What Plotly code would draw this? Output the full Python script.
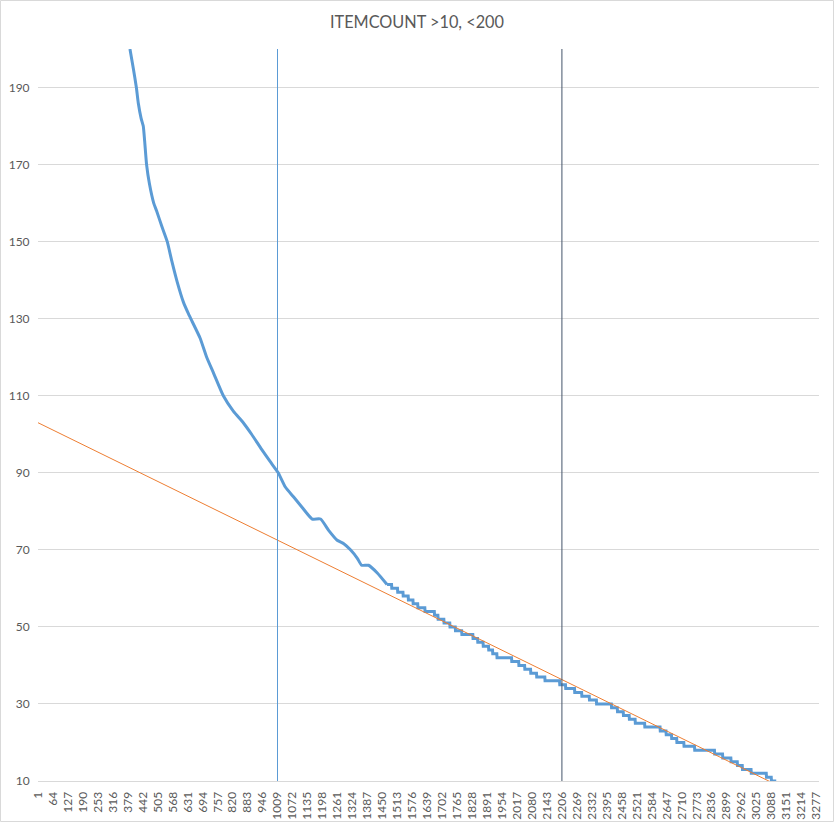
import plotly.graph_objects as go

# ---------------- data ----------------
title_text = "ITEMCOUNT >10, <200"

# steep upper part of the sorted ITEMCOUNT curve (rank, count)
upper_rank = [388, 402, 415, 423, 435, 444, 450, 458, 470, 488, 500, 522, 545, 564, 587,
              613, 634, 648, 683, 711, 739, 781, 823, 865, 900, 943, 977, 1012,
              1042, 1077, 1113, 1155, 1190, 1225, 1260, 1288, 1316, 1345, 1363,
              1392, 1429, 1470]
upper_count = [200, 195, 190, 186, 182, 180, 176, 170, 165, 160, 158, 154, 150, 145,
               139.5, 134.3, 131.3, 129.5, 125, 120, 116, 110, 106, 103, 100, 96, 93,
               90, 86.3, 83.7, 81, 78, 78, 75, 72.5, 71.6, 70, 67.8, 66, 66, 64, 61]

# lower part: first rank at which each integer count occurs (step plateaus)
step_count = list(range(61, 9, -1))
step_start = [1470, 1490, 1515, 1538, 1560, 1580, 1600, 1630, 1670, 1685, 1710, 1735,
              1758, 1785, 1832, 1852, 1875, 1898, 1915, 1933, 1995, 2025, 2050, 2075,
              2100, 2135, 2197, 2222, 2260, 2290, 2322, 2352, 2415, 2440, 2465, 2490,
              2515, 2555, 2620, 2645, 2668, 2690, 2720, 2765, 2849, 2883, 2918, 2945,
              2966, 3003, 3067, 3088]
last_rank = 3108

# linear trendline (Excel) parameters: count = trend_intercept + trend_slope * (rank - 1)
trend_intercept = 103.0
trend_slope = -0.03024

# vertical marker lines
marker_ranks = [1009, 2206]
marker_colors = ["#5b9bd5", "#44546a"]

n_categories = 3288
tick_labels = list(range(1, 3278, 63))
y_ticks = [10, 30, 50, 70, 90, 110, 130, 150, 170, 190]
y_range = [10, 200]

# ---------------- build series ----------------
step_x, step_y = [], []
ends = step_start[1:] + [last_rank + 1]
for s, e, v in zip(step_start, ends, step_count):
    step_x += [s, e - 1]
    step_y += [v, v]

trend_x = [1, n_categories]
trend_y = [trend_intercept + trend_slope * (x - 1) for x in trend_x]

fig = go.Figure()

fig.add_trace(go.Scatter(x=upper_rank, y=upper_count, mode="lines",
                         line=dict(color="#5b9bd5", width=3, shape="spline",
                                   smoothing=0.5), showlegend=False))
fig.add_trace(go.Scatter(x=step_x, y=step_y, mode="lines",
                         line=dict(color="#5b9bd5", width=3), showlegend=False))

fig.add_trace(go.Scatter(x=trend_x, y=trend_y, mode="lines",
                         line=dict(color="#ed7d31", width=1), showlegend=False,
                         hoverinfo="skip"))

for r, c in zip(marker_ranks, marker_colors):
    fig.add_trace(go.Scatter(x=[r, r], y=y_range, mode="lines",
                             line=dict(color=c, width=1), showlegend=False,
                             hoverinfo="skip"))

W, H = 834, 822
ml, mr, mt, mb = 38, 15, 49, 41
pw, ph = W - ml - mr, H - mt - mb
tick_font = dict(family="Liberation Sans Narrow, Lato, sans-serif", size=12,
                 color="#595959")

fig.update_layout(
    width=W, height=H,
    margin=dict(l=ml, r=mr, t=mt, b=mb, pad=0, autoexpand=False),
    paper_bgcolor="white", plot_bgcolor="white",
    font=dict(family="Lato, Open Sans, sans-serif", color="#595959", size=12),
    title=dict(text=title_text, x=0.5, xanchor="center", y=1 - 22 / H,
               yanchor="middle", font=dict(size=16.3, color="#595959")),
    showlegend=False,
    hovermode=False,
    xaxis=dict(range=[1, n_categories], tickmode="array", tickvals=tick_labels,
               ticktext=[str(t) for t in tick_labels], tickangle=-90,
               automargin=False,
               showgrid=False, zeroline=False, showline=True,
               linecolor="#d9d9d9", linewidth=1,
               ticks="outside", ticklen=5, tickcolor="rgba(0,0,0,0)",
               tickfont=tick_font),
    yaxis=dict(range=y_range, tickmode="array", tickvals=y_ticks,
               automargin=False,
               showgrid=True, gridcolor="#d9d9d9", gridwidth=1,
               zeroline=False, showline=False,
               ticks="outside", ticklen=5, tickcolor="rgba(0,0,0,0)",
               tickfont=tick_font),
    shapes=[dict(type="rect", xref="paper", yref="paper",
                 x0=-(ml - 0.5) / pw, x1=1 + (mr - 0.5) / pw,
                 y0=-(mb - 0.5) / ph, y1=1 + (mt - 0.5) / ph,
                 line=dict(color="#d9d9d9", width=1), layer="below")],
)

fig.write_html("out.html", config={"displayModeBar": False},
               post_script="document.body.style.margin='0px';")
